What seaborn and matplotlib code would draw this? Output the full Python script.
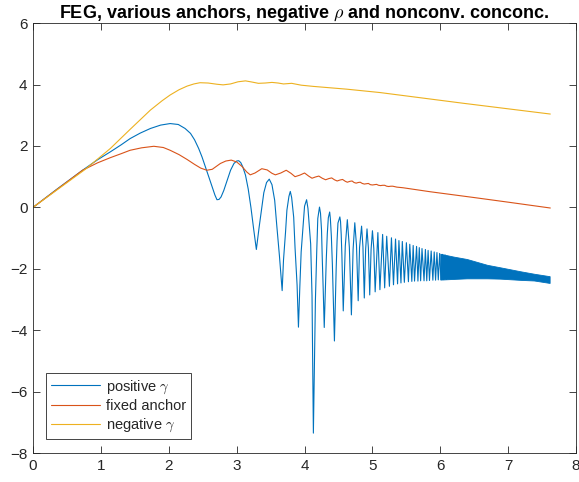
import numpy as np
import pandas as pd
import matplotlib
matplotlib.use("Agg")
import matplotlib.pyplot as plt
import seaborn as sns

# ---------------- data ----------------
pos_x = [0.00, 0.35, 0.73, 0.95, 1.14, 1.30, 1.43, 1.58, 1.73, 1.88, 2.02, 2.14,
         2.24, 2.32, 2.38, 2.44, 2.49, 2.54, 2.59, 2.64, 2.68, 2.71, 2.74, 2.77,
         2.81, 2.86, 2.91, 2.96, 3.00, 3.03, 3.06, 3.09, 3.13, 3.17, 3.21, 3.25,
         3.29, 3.33, 3.37, 3.40, 3.44, 3.48, 3.52, 3.56, 3.59, 3.63, 3.67, 3.69,
         3.72, 3.74, 3.77, 3.79, 3.81, 3.84, 3.86, 3.89, 3.91, 3.93, 3.95, 3.98,
         4.00, 4.03, 4.05, 4.07, 4.09, 4.11, 4.12, 4.13, 4.145, 4.16, 4.18, 4.195,
         4.22, 4.235, 4.25, 4.26, 4.275, 4.29, 4.305, 4.32, 4.335, 4.35, 4.37, 4.38,
         4.395, 4.41, 4.425, 4.44, 4.453, 4.466, 4.479, 4.492, 4.52, 4.53, 4.54, 4.55,
         4.56, 4.57, 4.60, 4.63, 4.66, 4.69, 4.715, 4.74, 4.765, 4.79, 4.81, 4.84,
         4.86, 4.88, 4.90, 4.92, 4.94, 4.96, 4.98, 5.00, 5.02, 5.04, 5.08, 5.11,
         5.15, 5.18, 5.21, 5.25, 5.28, 5.31, 5.34, 5.37, 5.39, 5.42, 5.44, 5.47,
         5.50, 5.53, 5.55, 5.58, 5.60, 5.62, 5.65, 5.67, 5.69, 5.71, 5.73, 5.76,
         5.78, 5.80, 5.82, 5.84, 5.865, 5.89, 5.91, 5.93, 5.95, 5.97, 5.99, 6.01,
         6.03, 6.05, 6.07, 6.09]
pos_y = [0.00, 0.59, 1.21, 1.55, 1.81, 2.04, 2.24, 2.42, 2.57, 2.68, 2.73, 2.70,
         2.57, 2.41, 2.20, 1.92, 1.64, 1.32, 0.99, 0.66, 0.40, 0.25, 0.26, 0.34,
         0.55, 0.88, 1.21, 1.43, 1.51, 1.52, 1.46, 1.32, 1.05, 0.60, 0.00, -0.70,
         -1.37, -0.66, -0.02, 0.48, 0.81, 0.92, 0.74, 0.23, -0.57, -1.58, -2.71, -1.71,
         -0.80, -0.09, 0.36, 0.52, 0.32, -0.32, -1.32, -2.53, -3.90, -2.61, -1.45, -0.54,
         0.04, 0.25, -0.03, -0.61, -1.19, -2.87, -4.99, -7.35, -5.07, -3.01, -1.39, -0.36,
         0.01, -0.19, -0.74, -1.60, -2.69, -3.91, -2.74, -1.69, -0.86, -0.34, -0.15, -0.36,
         -0.95, -1.87, -3.05, -4.35, -3.10, -1.97, -1.08, -0.51, -0.31, -0.46, -0.89, -1.56,
         -2.42, -3.37, -1.26, -0.40, -1.30, -3.50, -1.37, -0.50, -1.24, -3.04, -1.31, -0.61,
         -1.28, -2.95, -1.36, -0.70, -1.32, -2.85, -1.37, -0.76, -1.34, -2.75, -0.82, -2.68,
         -0.88, -2.62, -0.94, -2.57, -0.99, -2.52, -1.03, -2.49, -1.08, -2.46, -1.11, -2.44,
         -1.15, -2.42, -1.20, -2.41, -1.24, -2.40, -1.27, -2.40, -1.31, -2.39, -1.34, -2.39,
         -1.37, -2.39, -1.40, -2.38, -1.42, -2.37, -1.45, -2.37, -1.47, -2.36, -1.50, -2.35,
         -1.53, -2.35, -1.55, -2.34]
# positive gamma: dense oscillation band (upper / lower envelope)
band_x = [6.00, 6.19, 6.39, 6.69, 6.88, 7.18, 7.38, 7.61]
band_hi = [-1.51, -1.60, -1.68, -1.87, -1.95, -2.08, -2.16, -2.24]
band_lo = [-2.35, -2.33, -2.31, -2.31, -2.32, -2.36, -2.38, -2.46]

# fixed anchor
fix_x = [0.00, 0.73, 0.95, 1.14, 1.30, 1.43, 1.60, 1.78, 1.92, 2.02, 2.15, 2.27,
         2.38, 2.47, 2.56, 2.64, 2.76, 2.84, 2.92, 3.00, 3.08, 3.15, 3.20, 3.27,
         3.37, 3.45, 3.52, 3.57, 3.65, 3.73, 3.80, 3.86, 3.93, 4.00, 4.06, 4.11,
         4.16, 4.21, 4.26, 4.31, 4.36, 4.40, 4.44, 4.48, 4.52, 4.56, 4.60, 4.63,
         4.67, 4.70, 4.73, 4.76, 4.79, 4.82, 4.85, 4.88, 4.91, 4.94, 4.97, 5.00,
         5.03, 5.06, 5.09, 5.12, 5.15, 5.18, 5.21, 5.24, 5.27, 5.30, 5.36, 5.45,
         5.85, 6.50, 7.00, 7.62]
fix_y = [0.00, 1.21, 1.45, 1.62, 1.75, 1.86, 1.94, 1.99, 1.95, 1.86, 1.72, 1.56,
         1.40, 1.28, 1.21, 1.24, 1.43, 1.51, 1.54, 1.48, 1.33, 1.15, 1.06, 1.12,
         1.26, 1.22, 1.11, 1.06, 1.12, 1.21, 1.11, 1.00, 1.05, 1.12, 1.02, 0.95,
         0.99, 1.02, 0.95, 0.90, 0.94, 0.96, 0.90, 0.86, 0.89, 0.91, 0.85, 0.82,
         0.85, 0.86, 0.81, 0.79, 0.81, 0.82, 0.78, 0.76, 0.77, 0.78, 0.74, 0.73,
         0.74, 0.75, 0.72, 0.71, 0.72, 0.72, 0.69, 0.68, 0.69, 0.69, 0.66, 0.64,
         0.51, 0.32, 0.17, -0.02]

# negative gamma
neg_x = [0.00, 0.77, 1.14, 1.43, 1.73, 1.90, 2.02, 2.15, 2.27, 2.37, 2.46, 2.58,
         2.71, 2.80, 2.91, 3.02, 3.13, 3.23, 3.32, 3.42, 3.52, 3.61, 3.69, 3.75,
         3.81, 3.88, 3.95, 4.13, 4.62, 5.11, 6.34, 7.62]
neg_y = [0.00, 1.24, 1.92, 2.54, 3.17, 3.47, 3.66, 3.83, 3.95, 4.02, 4.06, 4.05,
         4.01, 3.99, 4.02, 4.09, 4.12, 4.08, 4.04, 4.05, 4.07, 4.05, 4.02, 4.03,
         4.04, 4.01, 3.98, 3.94, 3.85, 3.74, 3.39, 3.04]

labels = [r"positive $\gamma$", "fixed anchor", r"negative $\gamma$"]
title = r"FEG, various anchors, negative $\rho$ and nonconv. conconc."
x_ticks = [0, 1, 2, 3, 4, 5, 6, 7, 8]
y_ticks = [-8, -6, -4, -2, 0, 2, 4, 6]

# ---------------- style ----------------
sns.set_style("ticks")
plt.rcParams["font.family"] = ["Liberation Sans", "DejaVu Sans"]
plt.rcParams["mathtext.fontset"] = "cm"

c_blue, c_orange, c_yellow = "#0072BD", "#D95319", "#EDB120"
dark = "#262626"

fig = plt.figure(figsize=(5.79, 4.82), dpi=100)
ax = fig.add_axes([0.057, 0.060, 0.938, 0.892])

sns.lineplot(x=pos_x, y=pos_y, ax=ax, color=c_blue, lw=0.8, label=labels[0],
             estimator=None, sort=False)
ax.fill_between(band_x, band_lo, band_hi, color=c_blue, lw=0.6, edgecolor=c_blue)
sns.lineplot(x=fix_x, y=fix_y, ax=ax, color=c_orange, lw=0.8, label=labels[1],
             estimator=None, sort=False)
sns.lineplot(x=neg_x, y=neg_y, ax=ax, color=c_yellow, lw=0.8, label=labels[2],
             estimator=None, sort=False)

ax.set_xlim(0, 8)
ax.set_ylim(-8, 6)
ax.set_xticks(x_ticks)
ax.set_yticks(y_ticks)
ax.tick_params(direction="in", length=5, width=0.6, top=True, right=True,
               labelsize=11, colors=dark, pad=4)
for s in ax.spines.values():
    s.set_visible(True)
    s.set_color(dark)
    s.set_linewidth(0.6)

ax.set_title(title, fontsize=13, fontweight="bold", color="black", pad=4)

leg = ax.legend(loc="lower left", bbox_to_anchor=(0.0234, 0.032), borderaxespad=0,
                fontsize=10.5, frameon=True, fancybox=False, handlelength=3.4,
                labelspacing=0.25, handletextpad=0.4, borderpad=0.35)
leg.get_frame().set_edgecolor(dark)
leg.get_frame().set_linewidth(0.6)
leg.get_frame().set_alpha(1)
for t in leg.get_texts():
    t.set_color(dark)

fig.savefig("out.png", dpi=100)
